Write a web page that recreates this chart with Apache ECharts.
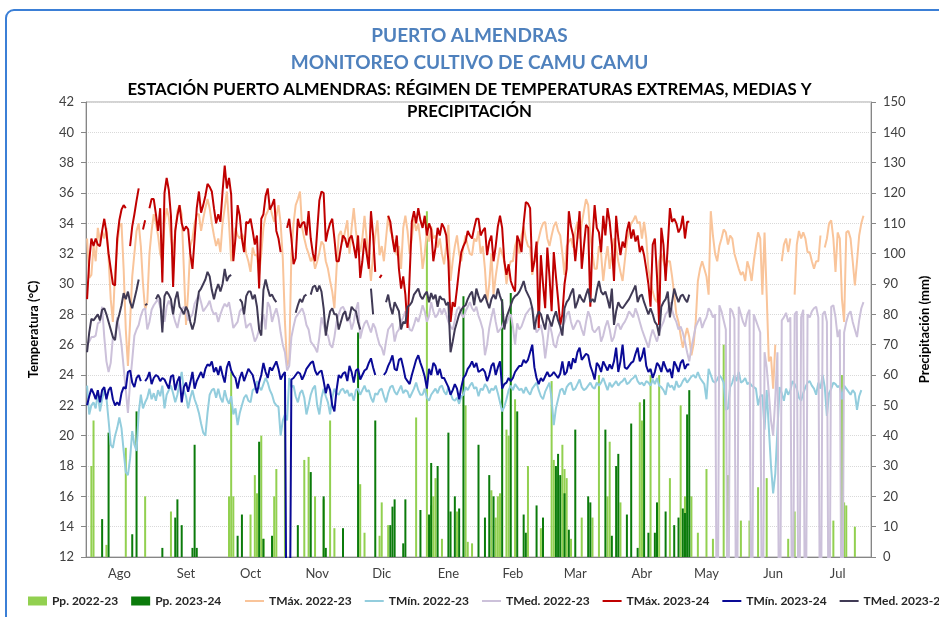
<!DOCTYPE html>
<html>
<head>
<meta charset="utf-8">
<title>Puerto Almendras</title>
<script src="https://cdn.jsdelivr.net/npm/echarts@6/dist/echarts.min.js"></script>
<style>
  html, body { margin: 0; padding: 0; background: #fff; overflow: hidden; }
  #frame { position: absolute; left: 5px; top: 9px; width: 990px; height: 680px;
           border: 2px solid #3b7fd6; border-radius: 9px; box-sizing: border-box; }
  #chart { position: absolute; left: 0; top: 0; width: 939px; height: 617px; }
</style>
</head>
<body>
<div id="frame"></div>
<div id="chart"></div>
<script>
// meses (campaña agosto - julio)
const monthNames = ["Ago", "Set", "Oct", "Nov", "Dic", "Ene", "Feb", "Mar", "Abr", "May", "Jun", "Jul"];
const monthDays = [31, 30, 31, 30, 31, 31, 28, 31, 30, 31, 30, 31];

// TMáx. 2023-24 (°C), un bloque por mes
const tmax2324 = [
  [29.0,31.5,33.0,32.5,33.0,32.6,32.5,33.5,34.3,33.4,32.0,31.0,30.0,29.9,33.0,34.2,34.9,35.2,35.0,null,32.5,33.8,34.6,35.5,36.3,null,33.6,34.2,null,35.0,35.6],
  [35.6,34.6,33.5,35.0,30.1,36.0,37.0,36.2,34.5,29.8,33.5,34.5,35.2,34.0,33.5,33.8,33.6,32.0,31.0,33.0,35.0,36.1,34.7,35.2,35.8,36.6,36.4,36.1,35.0,34.0],
  [34.6,34.1,36.1,37.8,36.3,37.0,35.9,31.5,33.0,35.2,34.5,33.0,32.1,34.1,34.0,34.3,33.5,32.6,33.2,29.7,34.3,34.6,35.8,36.3,34.9,35.2,35.6,33.5,33.0,32.1,null],
  [null,33.7,34.3,33.0,31.3,31.7,34.3,33.7,34.0,34.1,33.2,34.8,33.0,32.0,31.5,33.5,35.5,36.1,36.0,32.8,33.5,34.0,34.3,33.0,31.5,31.5,32.4,33.2,33.0,32.4],
  [33.0,33.2,32.5,31.7,33.2,30.4,31.5,33.0,32.0,31.0,34.8,33.2,30.8,null,30.4,30.6,null,null,34.5,34.1,33.0,32.1,33.2,31.0,29.7,30.5,29.3,27.1,30.6,34.1,34.8],
  [34.0,35.0,34.2,33.7,34.5,33.2,34.0,33.6,31.5,32.4,33.7,33.2,34.0,33.7,33.2,31.5,27.5,28.8,28.5,29.7,31.0,32.1,32.5,32.8,33.5,33.2,33.0,33.7,34.3,34.3,33.2],
  [33.5,33.7,31.9,32.8,33.2,31.5,32.5,33.8,34.5,33.7,31.5,30.6,31.3,30.2,29.8,29.5,33.2,32.8,32.1,34.0,35.4,35.3,35.0,30.8,31.5,32.8,27.1,31.9],
  [30.0,28.4,32.4,30.5,28.2,32.1,30.5,29.0,27.3,28.0,30.0,31.0,34.8,33.8,33.2,31.5,33.0,34.8,31.0,32.5,33.9,33.7,28.5,33.0,35.2,33.7,33.4,32.1,34.5,33.2,35.0],
  [34.1,32.6,30.2,34.5,33.0,31.9,32.8,32.4,33.5,34.1,33.0,33.6,32.8,33.2,32.1,32.5,31.9,31.0,30.0,28.5,32.6,33.0,30.5,27.3,33.7,32.6,30.2,32.5,35.0,34.1],
  [34.3,34.0,33.4,33.7,34.5,33.0,34.1,34.1],
  [],
  []
];

// TMáx. 2022-23 (°C)
const tmax2223 = [
  [33.0,30.4,30.6,32.5,31.5,33.7,32.8,33.5,33.0,33.7,31.7,29.0,27.5,30.8,32.5,33.8,34.0,31.0,27.0,24.6,27.5,30.5,32.0,33.5,34.0,32.5,30.0,28.3,28.8,32.0,33.5],
  [34.6,34.0,33.2,32.0,31.5,34.0,35.0,34.4,33.0,32.0,33.5,34.8,35.2,34.6,31.0,27.3,29.5,32.5,33.0,34.0,34.6,34.6,33.5,34.3,35.0,35.6,35.0,34.0,33.2,32.5],
  [33.0,32.1,34.0,35.0,36.1,34.0,31.5,32.5,33.7,33.2,33.0,33.3,33.0,32.0,31.5,30.8,32.4,31.9,31.9,30.6,32.0,33.7,34.5,34.8,35.2,34.6,34.1,34.5,35.2,34.0,31.7],
  [27.5,24.6,25.0,32.0,34.0,35.2,35.6,36.1,33.7,33.0,32.4,32.0,31.5,31.8,31.0,31.5,32.1,32.8,32.6,31.5,31.0,30.2,29.5,28.4,31.0,33.2,33.5,32.8,33.5,34.2],
  [32.0,33.7,35.0,33.5,32.4,32.1,33.0,34.5,33.0,31.5,30.2,32.0,33.2,34.2,31.9,32.5,31.5,33.0,34.5,33.5,33.2,32.5,31.9,32.5,31.0,33.7,34.5,33.5,32.0,33.0,34.3],
  [33.5,34.0,32.8,31.0,32.0,33.5,32.8,33.8,33.0,33.2,32.4,33.0,32.0,31.3,32.5,33.9,30.2,31.5,32.5,33.2,32.0,31.5,32.5,33.2,32.5,32.0,31.9,33.0,32.8,33.5,32.0],
  [32.5,31.0,28.8,30.0,32.0,29.3,30.5,31.5,32.4,32.0,31.5,30.0,31.0,31.5,31.5,32.5,33.0,32.0,33.2,33.8,33.0,32.5,32.4,30.6,31.5,32.4,33.0,33.6],
  [34.0,34.1,33.0,32.5,33.2,33.8,34.1,33.5,33.2,32.0,30.6,32.5,32.8,33.0,32.4,33.5,34.1,33.0,34.0,34.8,35.6,35.2,33.2,32.0,31.0,31.0,32.5,32.0,30.2,31.5,32.5],
  [31.0,32.0,33.0,32.4,31.5,30.8,30.2,31.5,32.8,33.5,34.0,34.2,34.5,34.0,34.1,33.0,34.1,33.0,31.0,30.2,29.5,29.0,28.8,31.5,32.0,31.5,31.0,31.5,31.5,30.5],
  [29.3,28.0,27.5,26.6,25.8,26.5,27.1,26.5,25.3,26.0,27.5,30.2,31.0,31.5,31.0,30.5,29.3,34.8,33.2,32.0,31.5,32.5,33.0,33.6,33.4,32.6,33.2,33.0,32.0,31.5,31.0],
  [30.6,30.8,30.2,31.5,31.0,30.2,31.5,32.5,33.4,33.0,29.3,33.4,29.3,24.9,25.2,23.1,26.0,null,null,31.5,32.6,33.0,32.1,33.0,null,29.3,32.6,33.5,33.0,33.4],
  [33.0,32.1,32.1,31.5,31.0,31.5,31.5,33.2,null,32.4,33.0,34.0,34.2,33.0,30.8,33.4,33.0,29.0,27.5,33.4,33.5,33.0,31.5,29.9,31.5,33.2,34.0,34.5]
];

// TMín. 2022-23 (°C)
const tmin2223 = [
  [23.3,21.4,22.0,22.2,21.8,22.8,21.6,22.4,23.0,22.5,21.0,19.4,19.2,20.0,20.5,21.2,20.5,19.0,17.6,17.4,18.5,20.3,19.4,19.0,21.5,22.7,21.8,22.2,22.5,23.1,22.4],
  [22.8,22.3,23.0,22.6,23.3,21.8,22.7,23.0,23.3,22.8,22.2,22.7,23.5,24.2,23.0,22.6,21.8,22.5,23.0,22.4,22.0,21.5,20.8,20.2,20.0,21.5,22.7,23.0,23.1,22.5],
  [23.1,22.5,22.2,23.0,22.4,22.1,22.6,21.4,21.8,20.7,21.5,22.0,22.5,22.7,22.3,22.2,23.0,23.1,23.6,23.2,23.0,23.4,23.8,23.5,23.0,22.7,22.2,22.0,21.9,20.0,21.0],
  [21.4,21.0,23.8,23.2,23.3,22.6,22.2,22.8,23.0,22.5,21.4,22.0,22.7,23.1,23.3,22.0,21.4,22.5,23.1,22.6,22.2,21.4,22.5,23.1,22.8,22.7,23.0,23.1,22.8,23.0],
  [22.6,22.8,22.3,23.0,23.1,22.7,23.0,23.3,22.9,23.0,22.5,22.2,22.8,22.7,23.0,23.1,22.6,22.2,22.8,23.2,23.3,22.9,22.7,23.0,23.3,22.8,23.0,22.9,22.5,22.8,23.1],
  [23.5,23.0,22.7,22.7,23.1,22.5,22.3,22.7,22.9,23.1,22.8,23.2,23.3,22.9,22.7,23.2,22.8,22.4,22.3,22.5,22.1,22.6,22.7,23.2,23.0,23.3,23.5,23.1,23.2,22.6,23.1],
  [23.0,23.4,23.2,22.8,23.1,23.0,23.3,22.8,22.2,21.6,21.9,22.4,23.0,23.3,23.0,23.4,23.2,23.0,23.1,22.8,23.2,22.9,22.7,23.1,23.3,23.5,23.0,22.6],
  [22.4,22.9,23.2,23.5,22.4,20.7,21.8,22.4,23.0,23.1,22.7,23.2,23.4,23.5,23.0,23.1,23.4,23.7,23.2,23.0,23.1,23.3,23.5,23.2,23.1,23.5,23.3,23.5,23.8,23.4,23.0],
  [23.5,23.2,23.4,23.6,23.3,23.5,23.6,23.8,23.4,23.5,23.7,23.8,24.0,23.6,23.4,23.5,23.3,23.6,23.5,23.3,23.7,23.4,23.8,23.3,23.2,23.0,22.7,23.5,23.2,23.3],
  [23.0,23.6,23.2,23.3,23.6,23.8,23.5,23.7,23.9,24.0,23.8,24.2,23.8,23.6,23.4,22.4,24.4,24.0,23.6,23.5,23.7,24.0,23.8,23.5,21.7,21.8,23.2,23.5,24.0,23.6,24.2],
  [23.5,23.6,23.8,23.4,23.5,23.3,23.2,23.1,22.0,22.6,22.7,20.4,23.0,20.5,18.0,16.2,17.5,20.4,23.2,22.8,22.3,23.1,22.7,23.0,23.6,23.4,23.1,22.5,22.3,22.8],
  [23.2,23.5,23.6,23.3,23.1,22.7,23.5,23.1,24.0,23.2,21.3,22.8,23.1,23.5,23.4,23.2,23.3,22.4,23.3,23.1,22.9,22.7,23.0,22.8,21.7,22.6,23.0]
];

// TMed. 2022-23 (°C); los ceros son días sin dato que la planilla dejó en 0
const tmed2223 = [
  [26.0,26.2,26.5,26.5,26.6,27.4,27.5,28.5,26.5,24.9,24.2,24.8,26.5,26.4,27.8,27.0,26.0,24.5,23.0,21.5,23.5,25.0,26.6,27.0,27.3,27.9,28.3,28.4,27.0,27.5,28.3],
  [28.6,28.8,29.0,28.5,28.2,27.5,28.5,28.9,28.6,28.0,27.5,27.1,27.8,28.3,28.5,28.2,27.6,27.8,28.0,28.7,29.0,29.3,28.8,28.2,28.4,28.6,28.9,28.3,28.0,28.1],
  [27.5,28.0,28.4,28.7,28.5,28.8,28.0,27.1,27.3,27.5,28.2,28.4,28.0,27.1,27.3,27.4,26.8,26.2,26.5,27.0,27.5,28.0,27.0,28.8,28.5,27.5,28.0,28.4,27.8,26.8,26.0],
  [25.5,24.3,24.6,26.5,27.2,27.8,28.0,28.2,28.4,28.0,27.3,27.0,26.2,26.0,25.8,25.5,26.5,27.8,27.3,26.8,26.6,26.0,25.8,26.5,27.5,28.0,28.4,28.5,28.2,27.5],
  [27.8,27.0,27.5,28.3,28.8,26.4,27.0,27.4,27.6,27.2,26.8,27.4,27.1,26.5,26.0,25.8,25.3,26.2,27.0,27.2,27.4,26.2,26.8,27.0,27.5,27.8,28.2,27.6,27.0,26.9,27.3],
  [27.8,27.5,28.0,28.6,28.2,27.5,27.9,28.8,28.2,27.8,28.0,28.4,28.0,28.4,28.0,27.5,27.2,27.0,27.6,28.3,28.5,28.0,27.8,28.2,28.5,28.8,28.4,28.2,28.5,27.9,27.5],
  [27.0,25.3,26.0,27.1,27.8,28.4,27.5,26.8,27.0,27.2,27.6,27.4,27.8,28.0,27.2,26.0,27.4,27.0,27.2,27.6,28.0,28.2,28.4,28.4,27.6,26.8,27.0,27.3],
  [26.5,25.1,26.2,27.4,26.8,26.0,25.8,26.5,26.8,27.2,27.5,28.0,28.2,27.5,27.0,27.3,27.6,27.5,27.0,26.6,27.5,28.2,27.8,27.0,26.8,27.0,27.2,26.2,26.6,27.2,27.6],
  [27.0,26.2,26.5,27.2,27.4,27.0,27.3,27.5,27.8,28.2,28.0,27.8,28.4,28.0,27.5,27.0,26.6,26.2,25.8,26.5,27.0,26.6,26.2,26.8,27.2,27.5,28.0,28.2,28.8,28.3],
  [27.8,27.5,27.0,27.2,26.8,26.2,25.5,24.9,25.8,26.5,27.2,27.5,27.8,27.1,27.5,27.8,28.4,28.2,27.8,28.0,0,28.6,28.2,27.6,27.0,0,28.4,28.2,27.7,0,28.5],
  [28.0,27.5,27.2,28.0,28.3,0,28.0,27.6,27.2,26.8,0,25.5,24.5,22.8,21.0,20.0,22.5,25.5,0,27.6,27.8,28.1,27.5,27.8,0,28.0,28.2,0,27.8,28.3],
  [0,28.0,27.8,28.2,28.4,28.5,27.8,0,28.0,28.2,27.5,0,28.5,28.6,27.8,26.5,27.0,0,26.8,27.5,28.0,28.2,27.5,27.0,26.5,27.6,28.4,28.8]
];

// TMín. 2023-24 (°C)
const tmin2324 = [
  [22.0,22.6,23.1,22.8,22.4,23.0,22.2,23.0,23.2,22.4,23.0,23.2,22.4,22.0,22.2,22.0,22.8,23.2,23.1,24.2,24.3,23.5,23.2,23.8,24.0,23.6,null,23.6,23.8,24.2,23.4],
  [23.8,24.0,23.9,23.6,23.8,23.7,23.4,23.1,23.9,24.0,23.0,23.6,23.9,22.2,23.2,23.5,22.9,23.5,24.2,23.1,23.6,23.9,24.2,23.8,24.4,24.7,24.6,24.9,24.2,24.5],
  [24.0,24.6,24.0,23.5,24.5,24.9,24.3,24.0,23.8,23.1,23.8,24.2,23.6,24.0,24.4,24.2,24.0,23.4,22.8,23.5,24.0,24.8,24.2,23.8,24.5,24.3,24.6,24.9,24.4,23.7,24.0],
  [24.2,0,0,23.7,23.8,24.0,24.2,24.1,23.7,24.0,24.4,24.6,24.8,24.9,24.3,24.0,24.2,24.3,23.6,22.8,23.4,23.0,22.0,21.6,23.0,24.0,23.8,24.1,24.2,23.6],
  [24.6,24.2,23.5,24.3,24.4,23.7,24.0,24.3,24.4,24.8,25.1,24.5,24.0,null,null,null,24.0,24.2,24.6,24.9,25.3,24.4,24.3,25.0,25.1,24.5,23.8,23.6,23.4,24.0,24.5],
  [25.0,25.3,24.8,24.4,23.9,23.1,24.4,24.0,24.8,24.6,24.0,24.4,23.8,23.8,23.5,23.2,22.7,23.0,23.4,23.1,22.4,23.2,23.8,24.0,24.4,24.6,24.9,24.5,24.8,24.2,24.3],
  [24.4,24.2,23.6,24.0,24.6,24.8,24.0,24.5,24.9,23.1,23.4,23.5,23.8,23.6,23.8,24.2,24.4,24.6,24.6,25.0,24.8,25.0,25.5,26.0,24.5,23.8,23.4,23.8],
  [23.6,23.9,24.2,23.9,24.0,24.2,24.0,23.8,24.1,24.9,24.0,24.2,24.9,24.4,25.1,24.8,25.5,25.8,25.0,25.2,25.4,25.3,24.6,24.2,23.7,24.8,24.6,24.2,24.9,24.6,24.3],
  [24.7,24.4,24.9,25.8,24.2,24.9,26.0,24.5,24.4,24.6,24.8,24.9,25.4,25.8,24.9,25.2,25.8,24.6,24.2,24.4,23.8,24.2,24.8,24.6,24.2,24.9,24.5,24.2,24.4,23.8],
  [24.9,24.6,24.2,24.8,25.0,24.4,24.7,24.7],
  [],
  []
];

// TMed. 2023-24 (°C)
const tmed2324 = [
  [25.5,26.8,27.7,27.6,27.8,28.0,27.6,28.3,28.4,28.0,27.5,27.0,26.5,26.3,27.5,28.0,28.6,29.4,29.0,29.5,28.8,28.4,29.0,29.6,30.3,null,null,28.6,28.7,null,null],
  [null,29.0,29.3,29.0,26.8,29.2,29.5,29.3,29.0,28.0,29.0,29.5,28.5,28.3,28.0,28.5,28.2,27.5,27.0,27.5,28.5,29.5,29.7,30.0,30.3,30.8,30.5,29.6,29.0,29.6],
  [30.0,29.5,30.0,31.0,30.2,30.5,30.6,null,null,null,29.0,28.8,28.0,29.2,29.5,29.5,29.0,29.3,28.5,27.0,26.6,29.6,30.3,29.7,29.2,29.3,29.0,28.8,null,null,null],
  [null,null,null,null,null,28.1,28.6,29.0,28.8,29.2,29.3,null,29.3,29.8,29.9,29.5,29.9,29.5,28.4,26.6,27.5,28.2,28.4,28.0,28.0,27.0,27.5,28.0,28.2,27.6],
  [27.8,28.5,28.3,28.2,27.5,27.0,null,null,null,null,29.7,28.0,null,null,null,null,null,28.8,29.3,28.5,28.0,28.8,28.5,28.2,27.0,27.5,27.4,28.5,28.6,28.8,29.3],
  [29.5,29.7,29.2,29.0,29.3,29.5,28.8,29.4,29.0,29.3,28.5,29.2,29.0,29.0,28.6,28.8,25.5,26.2,27.0,27.5,28.0,28.3,28.5,28.6,29.0,29.3,29.5,28.6,29.7,29.2,28.8],
  [29.0,29.3,28.8,28.4,29.0,29.3,29.0,29.7,29.2,28.8,27.0,27.8,28.2,28.6,29.0,29.2,29.3,29.5,29.8,30.2,29.6,29.3,29.0,28.4,27.0,27.8,28.2,28.0],
  [27.5,27.0,28.0,27.6,27.2,27.8,28.2,27.6,27.2,26.6,28.4,28.8,29.0,29.4,29.7,28.4,28.8,29.3,29.0,28.8,29.3,29.7,28.8,29.0,28.8,29.6,30.2,29.5,29.3,29.5,29.0],
  [28.4,29.7,27.3,28.2,28.8,28.5,28.4,28.6,28.8,29.0,29.3,29.6,29.9,28.8,29.2,29.3,28.8,28.4,28.0,28.4,28.0,27.5,27.3,26.6,28.5,28.8,29.0,29.5,27.8,28.8],
  [29.7,29.2,28.8,29.2,29.3,29.0,28.8,29.3],
  [],
  []
];

// precipitación diaria (mm): [día de la campaña (0 = 1 ago), mm]
const pp2223 = [
  [2,30],[3,45],[9,4],[18,36],[27,20],[39,15],[66,20],[67,61],[68,20],[76,14],[78,27],[79,21],[81,40],[82,6],
  [87,20],[88,29],[92,60],[101,32],[103,33],[106,20],[110,19],[113,45],[115,9.5],[127,24],[129,8],[136,7],
  [137,18],[140,10.5],[153,46],[158,114],[160,17],[161,20],[162,26],[165,6],[172,15],[176,50],[177,5],[179,4.5],
  [188,22],[190,13],[191,20],[192,21],[195,42],[196,40],[199,52],[205,30],[211,9.5],[216,58],[217,32],[221,37],
  [222,29],[223,26],[225,6],[230,13],[235,13],[238,60],[242,20],[243,38],[248,18],[257,51],[258,45],[262,60],
  [266,60],[271,26],[276,50],[278,20],[281,20],[284,8],[288,29],[291,6],[296,70],[298,27],[304,12],[308,12],
  [312,23],[316,26],[326,6],[329,15],[347,12],[351,60],[352,18],[353,17],[357,10]
];
const pp2324 = [
  [7,12.5],[10,41],[21,7.5],[23,48],[35,3],[41,13],[42,19],[44,10.5],[49,3],[50,37],[51,3],
  [70,7],[72,14],[80,38],[82,6],[86,7],[98,10.5],[104,28],[110,20],[111,3],
  [119,9.5],[126,74],[134,45],[141,10.5],[142,16.6],[143,19],[147,4.5],[148,19],[155,15.5],[159,14],[160,31],
  [163,30],[168,41],[169,15],[171,20],[173,16],[175,86],
  [182,37],[185,13],[187,27],[189,20],[193,85],[197,87],[200,48],[203,14],[204,8],[209,17],[212,13],[218,30],
  [219,34],[220,27],[222,21],[224,9],[227,42],[233,20],[234,18],[241,42],
  [244,7],[246,30],[247,34],[251,14],[253,44],[256,3],[259,52],[261,8],[264,8],[265,18],[269,15],[273,10.5],
  [275,13],[277,16],[278,14.5],[279,47],[280,55]
];

const yTempTicks = { min: 12, max: 42, step: 2 };
const yRainTicks = { min: 0, max: 150, step: 10 };

// ---- construcción de ejes y series ----
const categories = [];
const monthStart = new Set();
const monthMid = new Set();
let k = 0;
monthNames.forEach((m, i) => {
  monthStart.add(k);
  monthMid.add(k + Math.floor(monthDays[i] / 2));
  for (let d = 1; d <= monthDays[i]; d++) categories.push(d + " " + m);
  k += monthDays[i];
});

function byMonth(chunks) {
  const out = [];
  chunks.forEach((c, i) => {
    for (let j = 0; j < monthDays[i]; j++) out.push(j < c.length ? c[j] : null);
  });
  return out;
}
function daily(pairs) {
  const a = new Array(categories.length).fill(null);
  pairs.forEach(([d, v]) => { a[d] = v; });
  return a;
}

const font = "Lato, 'Open Sans', sans-serif";
const legendText = { fontFamily: font, fontSize: 12, fontWeight: "bold", color: "#262626" };

function line(name, data, color) {
  return {
    name, type: "line", yAxisIndex: 0, data: byMonth(data),
    symbol: "none", connectNulls: false,
    lineStyle: { width: 2, color }, itemStyle: { color }
  };
}

const chart = echarts.init(document.getElementById("chart"));
const option = {
  animation: false,
  title: [
    { text: "PUERTO ALMENDRAS", left: "center", top: 21,
      textStyle: { color: "#4f81bd", fontSize: 19, fontWeight: "bold", fontFamily: font } },
    { text: "MONITOREO CULTIVO DE CAMU CAMU", left: "center", top: 48,
      textStyle: { color: "#4f81bd", fontSize: 19, fontWeight: "bold", fontFamily: font } },
    { text: "ESTACIÓN PUERTO ALMENDRAS: RÉGIMEN DE TEMPERATURAS EXTREMAS, MEDIAS Y", left: "center", top: 76,
      textStyle: { color: "#000", fontSize: 16.8, fontWeight: "bold", fontFamily: font } },
    { text: "PRECIPITACIÓN", left: "center", top: 98,
      textStyle: { color: "#000", fontSize: 16.8, fontWeight: "bold", fontFamily: font } }
  ],
  legend: [
    { left: 23, top: 590, itemWidth: 19, itemHeight: 9, itemGap: 13, icon: "rect",
      textStyle: legendText, data: ["Pp. 2022-23", "Pp. 2023-24"] },
    { left: 240, top: 590, width: 1200, itemWidth: 19, itemHeight: 2, itemGap: 13, icon: "rect",
      textStyle: legendText,
      data: ["TMáx. 2022-23", "TMín. 2022-23", "TMed. 2022-23", "TMáx. 2023-24", "TMín. 2023-24", "TMed. 2023-24"] }
  ],
  grid: { left: 86, right: 61, top: 102, bottom: 60, show: true, borderColor: "#a6a6a6", borderWidth: 1 },
  xAxis: {
    type: "category", data: categories, boundaryGap: true,
    axisLine: { lineStyle: { color: "#868686" } },
    axisTick: { interval: (i) => monthStart.has(i), length: 4, lineStyle: { color: "#868686" } },
    axisLabel: { interval: (i) => monthMid.has(i), formatter: (v) => v.split(" ")[1],
                 margin: 10, color: "#404040", fontSize: 13, fontFamily: font },
    splitLine: { show: false }
  },
  yAxis: [
    { type: "value", position: "left", min: yTempTicks.min, max: yTempTicks.max, interval: yTempTicks.step,
      name: "Temperatura (°C)", nameLocation: "middle", nameGap: 46, nameRotate: 90,
      nameTextStyle: { fontFamily: font, fontSize: 13, fontWeight: "bold", color: "#000" },
      axisLine: { show: true, lineStyle: { color: "#868686" } },
      axisTick: { show: true, length: 5, lineStyle: { color: "#868686" } },
      axisLabel: { margin: 12, color: "#404040", fontSize: 13, fontFamily: font },
      splitLine: { show: true, lineStyle: { color: "#d9d9d9", type: "dotted" } } },
    { type: "value", position: "right", min: yRainTicks.min, max: yRainTicks.max, interval: yRainTicks.step,
      name: "Precipitación (mm)", nameLocation: "middle", nameGap: 47, nameRotate: 90,
      nameTextStyle: { fontFamily: font, fontSize: 13, fontWeight: "bold", color: "#000" },
      axisLine: { show: true, lineStyle: { color: "#868686" } },
      axisTick: { show: true, length: 5, lineStyle: { color: "#868686" } },
      axisLabel: { margin: 12, color: "#404040", fontSize: 13, fontFamily: font },
      splitLine: { show: false } }
  ],
  series: [
    { name: "Pp. 2022-23", type: "bar", yAxisIndex: 1, data: daily(pp2223), barWidth: 2, barGap: "-100%",
      itemStyle: { color: "#92d050" } },
    { name: "Pp. 2023-24", type: "bar", yAxisIndex: 1, data: daily(pp2324), barWidth: 2, barGap: "-100%",
      itemStyle: { color: "#0b7b0b" } },
    line("TMáx. 2022-23", tmax2223, "#f9c49a"),
    line("TMín. 2022-23", tmin2223, "#93cddd"),
    line("TMed. 2022-23", tmed2223, "#ccc1da"),
    line("TMáx. 2023-24", tmax2324, "#c00000"),
    line("TMín. 2023-24", tmin2324, "#0a0a96"),
    line("TMed. 2023-24", tmed2324, "#403a55")
  ]
};
chart.setOption(option);
</script>
</body>
</html>
